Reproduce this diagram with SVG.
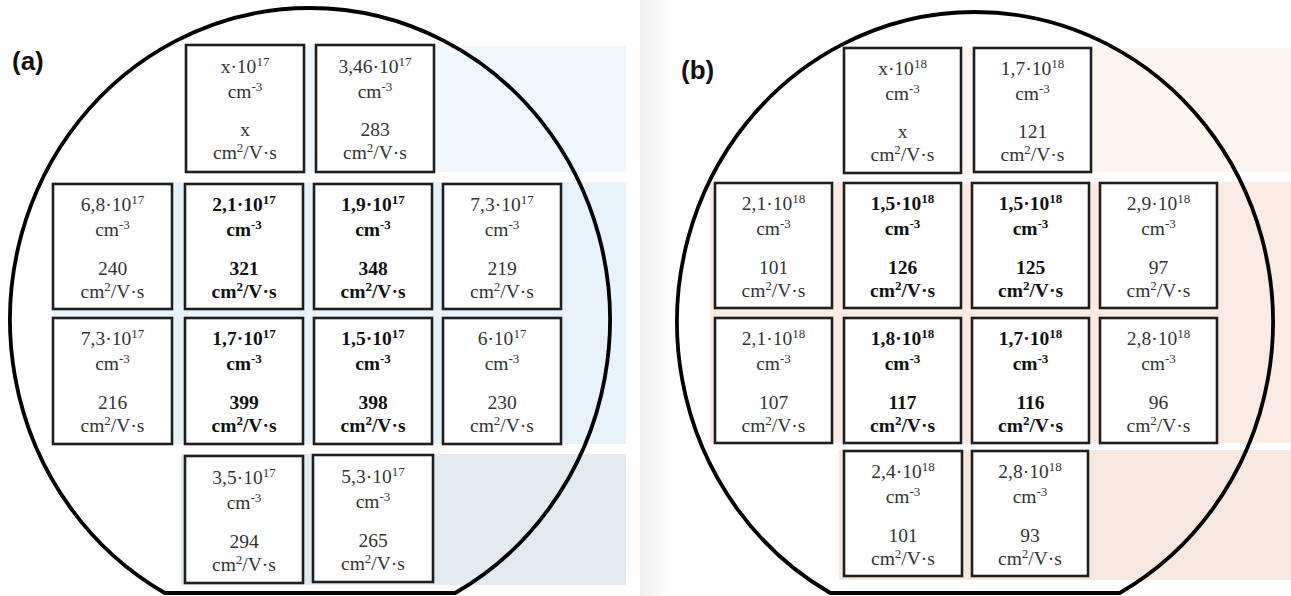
<svg xmlns="http://www.w3.org/2000/svg" width="1291" height="596" viewBox="0 0 1291 596">
<style>
.box{fill:#ffffff;stroke:#1e1e1e;stroke-width:2.6}
.t{font-family:"Liberation Serif","Times New Roman",serif;font-size:19.5px;fill:#333333;text-anchor:middle}
.b{font-weight:bold;fill:#111111}
.s{font-size:13px}
.wafer{fill:none;stroke:#000000;stroke-width:3.8;stroke-linejoin:round}
.lbl{font-family:"Liberation Sans",Arial,sans-serif;font-weight:bold;font-size:26px;fill:#111111}
</style>
<defs>
<linearGradient id="shade" x1="0" y1="0" x2="1" y2="0">
<stop offset="0" stop-color="#f0f0f0"/>
<stop offset="1" stop-color="#ffffff"/>
</linearGradient>
</defs>
<rect width="1291" height="596" fill="#ffffff"/>
<rect x="640" y="0" width="32" height="596" fill="url(#shade)"/>

<g id="bands">
<rect x="186" y="46" width="440" height="126" fill="#eff7fc"/>
<rect x="52" y="182" width="574" height="262" fill="#e7f3fa"/>
<rect x="181" y="454" width="445" height="131" fill="#e2eaf0"/>
<rect x="844" y="48" width="447" height="124" fill="#fdf5f0"/>
<rect x="710" y="182" width="581" height="261" fill="#fbebe3"/>
<rect x="839" y="450" width="452" height="130" fill="#f6e8df"/>
</g>

<g id="labels">
<text class="lbl" x="12" y="70">(a)</text>
<text class="lbl" x="681" y="79">(b)</text>
</g>

<!-- Panel (a) -->
<g id="a-r1c2" transform="translate(186,45)"><rect class="box" width="118" height="127"/><text class="t" x="59" y="28">x·10<tspan class="s" dy="-7">17</tspan></text><text class="t" x="59" y="53">cm<tspan class="s" dy="-7">-3</tspan></text><text class="t" x="59" y="91">x</text><text class="t" x="59" y="114">cm<tspan class="s" dy="-7">2</tspan><tspan dy="7">/V·s</tspan></text></g>
<g id="a-r1c3" transform="translate(316,45)"><rect class="box" width="118" height="127"/><text class="t" x="59" y="28">3,46·10<tspan class="s" dy="-7">17</tspan></text><text class="t" x="59" y="53">cm<tspan class="s" dy="-7">-3</tspan></text><text class="t" x="59" y="91">283</text><text class="t" x="59" y="114">cm<tspan class="s" dy="-7">2</tspan><tspan dy="7">/V·s</tspan></text></g>

<g id="a-r2c1" transform="translate(53,184)"><rect class="box" width="119" height="125"/><text class="t" x="59.5" y="27">6,8·10<tspan class="s" dy="-7">17</tspan></text><text class="t" x="59.5" y="52">cm<tspan class="s" dy="-7">-3</tspan></text><text class="t" x="59.5" y="91">240</text><text class="t" x="59.5" y="114">cm<tspan class="s" dy="-7">2</tspan><tspan dy="7">/V·s</tspan></text></g>
<g id="a-r2c2" transform="translate(185,184)"><rect class="box" width="118" height="125"/><text class="t b" x="59" y="27">2,1·10<tspan class="s" dy="-7">17</tspan></text><text class="t b" x="59" y="52">cm<tspan class="s" dy="-7">-3</tspan></text><text class="t b" x="59" y="91">321</text><text class="t b" x="59" y="114">cm<tspan class="s" dy="-7">2</tspan><tspan dy="7">/V·s</tspan></text></g>
<g id="a-r2c3" transform="translate(314,184)"><rect class="box" width="118" height="125"/><text class="t b" x="59" y="27">1,9·10<tspan class="s" dy="-7">17</tspan></text><text class="t b" x="59" y="52">cm<tspan class="s" dy="-7">-3</tspan></text><text class="t b" x="59" y="91">348</text><text class="t b" x="59" y="114">cm<tspan class="s" dy="-7">2</tspan><tspan dy="7">/V·s</tspan></text></g>
<g id="a-r2c4" transform="translate(443,184)"><rect class="box" width="118" height="125"/><text class="t" x="59" y="27">7,3·10<tspan class="s" dy="-7">17</tspan></text><text class="t" x="59" y="52">cm<tspan class="s" dy="-7">-3</tspan></text><text class="t" x="59" y="91">219</text><text class="t" x="59" y="114">cm<tspan class="s" dy="-7">2</tspan><tspan dy="7">/V·s</tspan></text></g>

<g id="a-r3c1" transform="translate(53,318)"><rect class="box" width="119" height="126"/><text class="t" x="59.5" y="27">7,3·10<tspan class="s" dy="-7">17</tspan></text><text class="t" x="59.5" y="52">cm<tspan class="s" dy="-7">-3</tspan></text><text class="t" x="59.5" y="91">216</text><text class="t" x="59.5" y="114">cm<tspan class="s" dy="-7">2</tspan><tspan dy="7">/V·s</tspan></text></g>
<g id="a-r3c2" transform="translate(185,318)"><rect class="box" width="118" height="126"/><text class="t b" x="59" y="27">1,7·10<tspan class="s" dy="-7">17</tspan></text><text class="t b" x="59" y="52">cm<tspan class="s" dy="-7">-3</tspan></text><text class="t b" x="59" y="91">399</text><text class="t b" x="59" y="114">cm<tspan class="s" dy="-7">2</tspan><tspan dy="7">/V·s</tspan></text></g>
<g id="a-r3c3" transform="translate(314,318)"><rect class="box" width="118" height="126"/><text class="t b" x="59" y="27">1,5·10<tspan class="s" dy="-7">17</tspan></text><text class="t b" x="59" y="52">cm<tspan class="s" dy="-7">-3</tspan></text><text class="t b" x="59" y="91">398</text><text class="t b" x="59" y="114">cm<tspan class="s" dy="-7">2</tspan><tspan dy="7">/V·s</tspan></text></g>
<g id="a-r3c4" transform="translate(443,318)"><rect class="box" width="118" height="126"/><text class="t" x="59" y="27">6·10<tspan class="s" dy="-7">17</tspan></text><text class="t" x="59" y="52">cm<tspan class="s" dy="-7">-3</tspan></text><text class="t" x="59" y="91">230</text><text class="t" x="59" y="114">cm<tspan class="s" dy="-7">2</tspan><tspan dy="7">/V·s</tspan></text></g>

<g id="a-r4c2" transform="translate(185,456)"><rect class="box" width="118" height="127"/><text class="t" x="59" y="28">3,5·10<tspan class="s" dy="-7">17</tspan></text><text class="t" x="59" y="53">cm<tspan class="s" dy="-7">-3</tspan></text><text class="t" x="59" y="92">294</text><text class="t" x="59" y="115">cm<tspan class="s" dy="-7">2</tspan><tspan dy="7">/V·s</tspan></text></g>
<g id="a-r4c3" transform="translate(313,455)"><rect class="box" width="120" height="127"/><text class="t" x="60" y="28">5,3·10<tspan class="s" dy="-7">17</tspan></text><text class="t" x="60" y="53">cm<tspan class="s" dy="-7">-3</tspan></text><text class="t" x="60" y="92">265</text><text class="t" x="60" y="115">cm<tspan class="s" dy="-7">2</tspan><tspan dy="7">/V·s</tspan></text></g>

<!-- Panel (b) -->
<g id="b-r1c2" transform="translate(844,48)"><rect class="box" width="117" height="125"/><text class="t" x="58.5" y="27">x·10<tspan class="s" dy="-7">18</tspan></text><text class="t" x="58.5" y="52">cm<tspan class="s" dy="-7">-3</tspan></text><text class="t" x="58.5" y="90">x</text><text class="t" x="58.5" y="113">cm<tspan class="s" dy="-7">2</tspan><tspan dy="7">/V·s</tspan></text></g>
<g id="b-r1c3" transform="translate(974,48)"><rect class="box" width="117" height="124"/><text class="t" x="58.5" y="27">1,7·10<tspan class="s" dy="-7">18</tspan></text><text class="t" x="58.5" y="52">cm<tspan class="s" dy="-7">-3</tspan></text><text class="t" x="58.5" y="90">121</text><text class="t" x="58.5" y="113">cm<tspan class="s" dy="-7">2</tspan><tspan dy="7">/V·s</tspan></text></g>

<g id="b-r2c1" transform="translate(715,183)"><rect class="box" width="117" height="125"/><text class="t" x="58.5" y="27">2,1·10<tspan class="s" dy="-7">18</tspan></text><text class="t" x="58.5" y="52">cm<tspan class="s" dy="-7">-3</tspan></text><text class="t" x="58.5" y="91">101</text><text class="t" x="58.5" y="114">cm<tspan class="s" dy="-7">2</tspan><tspan dy="7">/V·s</tspan></text></g>
<g id="b-r2c2" transform="translate(844,183)"><rect class="box" width="117" height="125"/><text class="t b" x="58.5" y="27">1,5·10<tspan class="s" dy="-7">18</tspan></text><text class="t b" x="58.5" y="52">cm<tspan class="s" dy="-7">-3</tspan></text><text class="t b" x="58.5" y="91">126</text><text class="t b" x="58.5" y="114">cm<tspan class="s" dy="-7">2</tspan><tspan dy="7">/V·s</tspan></text></g>
<g id="b-r2c3" transform="translate(972,183)"><rect class="box" width="117" height="125"/><text class="t b" x="58.5" y="27">1,5·10<tspan class="s" dy="-7">18</tspan></text><text class="t b" x="58.5" y="52">cm<tspan class="s" dy="-7">-3</tspan></text><text class="t b" x="58.5" y="91">125</text><text class="t b" x="58.5" y="114">cm<tspan class="s" dy="-7">2</tspan><tspan dy="7">/V·s</tspan></text></g>
<g id="b-r2c4" transform="translate(1100,183)"><rect class="box" width="117" height="125"/><text class="t" x="58.5" y="27">2,9·10<tspan class="s" dy="-7">18</tspan></text><text class="t" x="58.5" y="52">cm<tspan class="s" dy="-7">-3</tspan></text><text class="t" x="58.5" y="91">97</text><text class="t" x="58.5" y="114">cm<tspan class="s" dy="-7">2</tspan><tspan dy="7">/V·s</tspan></text></g>

<g id="b-r3c1" transform="translate(715,318)"><rect class="box" width="117" height="125"/><text class="t" x="58.5" y="27">2,1·10<tspan class="s" dy="-7">18</tspan></text><text class="t" x="58.5" y="52">cm<tspan class="s" dy="-7">-3</tspan></text><text class="t" x="58.5" y="91">107</text><text class="t" x="58.5" y="114">cm<tspan class="s" dy="-7">2</tspan><tspan dy="7">/V·s</tspan></text></g>
<g id="b-r3c2" transform="translate(844,318)"><rect class="box" width="117" height="125"/><text class="t b" x="58.5" y="27">1,8·10<tspan class="s" dy="-7">18</tspan></text><text class="t b" x="58.5" y="52">cm<tspan class="s" dy="-7">-3</tspan></text><text class="t b" x="58.5" y="91">117</text><text class="t b" x="58.5" y="114">cm<tspan class="s" dy="-7">2</tspan><tspan dy="7">/V·s</tspan></text></g>
<g id="b-r3c3" transform="translate(972,318)"><rect class="box" width="117" height="125"/><text class="t b" x="58.5" y="27">1,7·10<tspan class="s" dy="-7">18</tspan></text><text class="t b" x="58.5" y="52">cm<tspan class="s" dy="-7">-3</tspan></text><text class="t b" x="58.5" y="91">116</text><text class="t b" x="58.5" y="114">cm<tspan class="s" dy="-7">2</tspan><tspan dy="7">/V·s</tspan></text></g>
<g id="b-r3c4" transform="translate(1100,318)"><rect class="box" width="117" height="125"/><text class="t" x="58.5" y="27">2,8·10<tspan class="s" dy="-7">18</tspan></text><text class="t" x="58.5" y="52">cm<tspan class="s" dy="-7">-3</tspan></text><text class="t" x="58.5" y="91">96</text><text class="t" x="58.5" y="114">cm<tspan class="s" dy="-7">2</tspan><tspan dy="7">/V·s</tspan></text></g>

<g id="b-r4c2" transform="translate(844,451)"><rect class="box" width="118" height="125"/><text class="t" x="59" y="27">2,4·10<tspan class="s" dy="-7">18</tspan></text><text class="t" x="59" y="52">cm<tspan class="s" dy="-7">-3</tspan></text><text class="t" x="59" y="91">101</text><text class="t" x="59" y="114">cm<tspan class="s" dy="-7">2</tspan><tspan dy="7">/V·s</tspan></text></g>
<g id="b-r4c3" transform="translate(972,451)"><rect class="box" width="116" height="125"/><text class="t" x="58" y="27">2,8·10<tspan class="s" dy="-7">18</tspan></text><text class="t" x="58" y="52">cm<tspan class="s" dy="-7">-3</tspan></text><text class="t" x="58" y="91">93</text><text class="t" x="58" y="114">cm<tspan class="s" dy="-7">2</tspan><tspan dy="7">/V·s</tspan></text></g>

<g id="wafers">
<path class="wafer" d="M 164.8 593 A 300 312 0 1 1 455.2 593 Z"/>
<path class="wafer" d="M 830.3 593 A 298 310 0 1 1 1119.7 593 Z"/>
</g>
</svg>
